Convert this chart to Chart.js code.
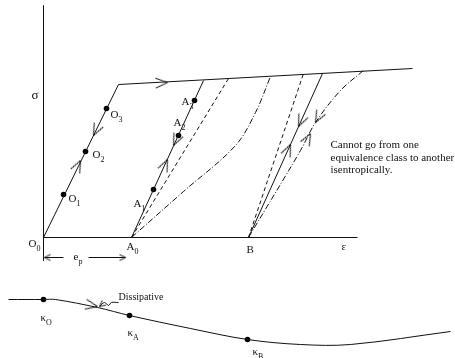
<!DOCTYPE html>
<html lang="en">
<head>
<meta charset="UTF-8">
<title>Equivalence classes</title>
<script src="https://cdn.jsdelivr.net/npm/chart.js@4.4.0/dist/chart.umd.min.js"></script>
<style>
  body { margin: 0; background: #fff; }
  #wrap { width: 455px; height: 358px; position: relative; }
</style>
</head>
<body>
<div id="wrap"><canvas id="myChart"></canvas></div>
<script>
// strain eps (x) and stress sigma (y), arbitrary units, origin at O0
var axisSigma = [[0, 232], [0, -23]];
var axisEps = [[0, 0], [314, 0]];
var lineO = [[0, 0], [75, 153]];
var plateau = [[75, 153], [369, 169]];
var lineA = [[88, 0], [160, 157]];
var dashA = [[88, 0], [185, 159]];
var curveA = [[88, 0], [140, 46], [192, 92], [212, 125], [227, 161]];
var lineB = [[205, 0], [279, 164]];
var dashB = [[205, 0], [260, 164]];
var curveB = [[205, 0], [257, 87], [272, 115], [297, 147], [320, 167]];
// internal variable kappa, drawn underneath
var kappa = [[-35, -62], [0, -62], [12, -62], [54, -70], [86, -78], [147, -91], [204, -102], [257, -107], [307, -107], [407, -94]];
var squiggle = [[75, -65], [68, -65], [65, -68], [61, -65], [56, -69]];
var epLeft = [[1, -20], [20, -20]];
var epRight = [[45, -20], [82, -20]];

// marked states O1..O3, A1..A3, kO, kA, kB
var states = [[20, 43], [42, 86], [63, 129], [110, 48], [135, 102], [151, 137], [0, -62], [86, -78], [204, -102]];

var lines = { lineO: lineO, plateau: plateau, lineA: lineA, lineB: lineB, curveB: curveB, kappa: kappa, squiggle: squiggle, epLeft: epLeft, epRight: epRight };

// arrow heads: which path, where, and which way along it
var bigArrows = [
  { on: 'lineO', x: 50, y: 102, dir: -1 },
  { on: 'lineO', x: 37, y: 77, dir: 1 },
  { on: 'plateau', x: 124, y: 155, dir: 1 },
  { on: 'lineA', x: 130, y: 92, dir: -1 },
  { on: 'lineA', x: 124, y: 78, dir: 1 },
  { on: 'lineB', x: 255, y: 111, dir: -1 },
  { on: 'lineB', x: 247, y: 93, dir: 1 },
  { on: 'curveB', x: 272, y: 115, dir: -1 },
  { on: 'curveB', x: 267, y: 104, dir: 1 },
  { on: 'kappa', x: 54, y: -69, dir: 1 }
];
var smallArrows = [
  { on: 'epLeft', x: 1, y: -20, dir: -1 },
  { on: 'epRight', x: 82, y: -20, dir: 1 },
  { on: 'squiggle', x: 56, y: -69, dir: 1 }
];

// text: [text, subscript, x, y]
var labels = [
  ['σ', '', -12, 142],
  ['O', '0', -15, -7],
  ['O', '1', 25, 38],
  ['O', '2', 49, 82],
  ['O', '3', 67, 122],
  ['A', '1', 90, 33],
  ['A', '2', 130, 114],
  ['A', '3', 138, 135],
  ['A', '0', 83, -10],
  ['B', '', 203, -13],
  ['ε', '', 298, -10],
  ['e', 'p', 30, -20],
  ['κ', 'O', -3, -81],
  ['κ', 'A', 84, -96],
  ['κ', 'B', 209, -115]
];
var noteLines = ['Cannot go from one', 'equivalence class to another', 'isentropically.'];
var notePos = [287, 92];
var dissipative = ['Dissipative', 75, -60];

function pts(a) { return a.map(function (p) { return { x: p[0], y: p[1] }; }); }

function lineSet(a, dash, curved) {
  return {
    data: pts(a), showLine: true, borderColor: '#111', borderWidth: 1,
    borderDash: dash || [], pointRadius: 0, fill: false,
    tension: curved ? 0.35 : 0
  };
}

function arrowImage(len, half) {
  var c = document.createElement('canvas');
  var s = Math.ceil(len * 2 + 4);
  c.width = c.height = s;
  var g = c.getContext('2d'), m = s / 2;
  g.strokeStyle = '#111';
  g.lineWidth = 1;
  g.beginPath();
  g.moveTo(m - len, m - half);
  g.lineTo(m, m);
  g.lineTo(m - len, m + half);
  g.stroke();
  return c;
}

function heading(chart, a) {
  if (!a || !lines[a.on]) return 0;
  var p = lines[a.on], sx = chart.scales.x, sy = chart.scales.y, i = 0;
  for (var k = 0; k < p.length - 1; k++) {
    if (a.x >= Math.min(p[k][0], p[k + 1][0]) && a.x <= Math.max(p[k][0], p[k + 1][0])) { i = k; break; }
  }
  var dx = sx.getPixelForValue(p[i + 1][0]) - sx.getPixelForValue(p[i][0]);
  var dy = sy.getPixelForValue(p[i + 1][1]) - sy.getPixelForValue(p[i][1]);
  return Math.atan2(dy, dx) * 180 / Math.PI + (a.dir < 0 ? 180 : 0);
}

function arrowSet(list, img) {
  return {
    data: list, showLine: false, pointStyle: img, pointRadius: 6,
    pointRotation: function (ctx) { return heading(ctx.chart, ctx.raw); }
  };
}

var textPlugin = {
  id: 'textPlugin',
  afterDatasetsDraw: function (chart) {
    var g = chart.ctx, sx = chart.scales.x, sy = chart.scales.y;
    g.save();
    g.fillStyle = '#111';
    g.textBaseline = 'middle';
    g.textAlign = 'left';
    labels.forEach(function (l) {
      var px = sx.getPixelForValue(l[2]), py = sy.getPixelForValue(l[3]);
      g.font = (l[0] === 'σ' ? '13px' : '11px') + ' "Liberation Serif"';
      g.fillText(l[0], px, py);
      if (l[1]) {
        var w = g.measureText(l[0]).width;
        g.font = '8px "Liberation Serif"';
        g.fillText(l[1], px + w, py + 4);
      }
    });
    g.font = '11px "Liberation Serif"';
    noteLines.forEach(function (t, i) {
      g.fillText(t, sx.getPixelForValue(notePos[0]), sy.getPixelForValue(notePos[1]) + i * 12.5);
    });
    g.font = '10px "Liberation Serif"';
    g.fillText(dissipative[0], sx.getPixelForValue(dissipative[1]), sy.getPixelForValue(dissipative[2]));
    g.restore();
  }
};

var ctx = document.getElementById('myChart').getContext('2d');
var myChart = new Chart(ctx, {
  type: 'scatter',
  data: {
    datasets: [
      lineSet(axisSigma), lineSet(axisEps),
      lineSet(lineO), lineSet(plateau),
      lineSet(lineA), lineSet(dashA, [4, 3]), lineSet(curveA, [6, 2, 1, 2], true),
      lineSet(lineB), lineSet(dashB, [4, 3]), lineSet(curveB, [6, 2, 1, 2], true),
      lineSet(kappa, null, true), lineSet(squiggle, null, true),
      lineSet(epLeft), lineSet(epRight),
      { data: pts(states), showLine: false, pointRadius: 2.8, pointBackgroundColor: '#000', pointBorderWidth: 0 },
      arrowSet(bigArrows, arrowImage(12, 5)),
      arrowSet(smallArrows, arrowImage(6, 3))
    ]
  },
  options: {
    responsive: true,
    maintainAspectRatio: false,
    animation: false,
    events: [],
    layout: { padding: 0, autoPadding: false },
    plugins: { legend: { display: false }, tooltip: { enabled: false } },
    scales: {
      x: { type: 'linear', min: -43.5, max: 411.5, display: false },
      y: { type: 'linear', min: -120.5, max: 237.5, display: false }
    }
  },
  plugins: [textPlugin]
});
</script>
</body>
</html>
